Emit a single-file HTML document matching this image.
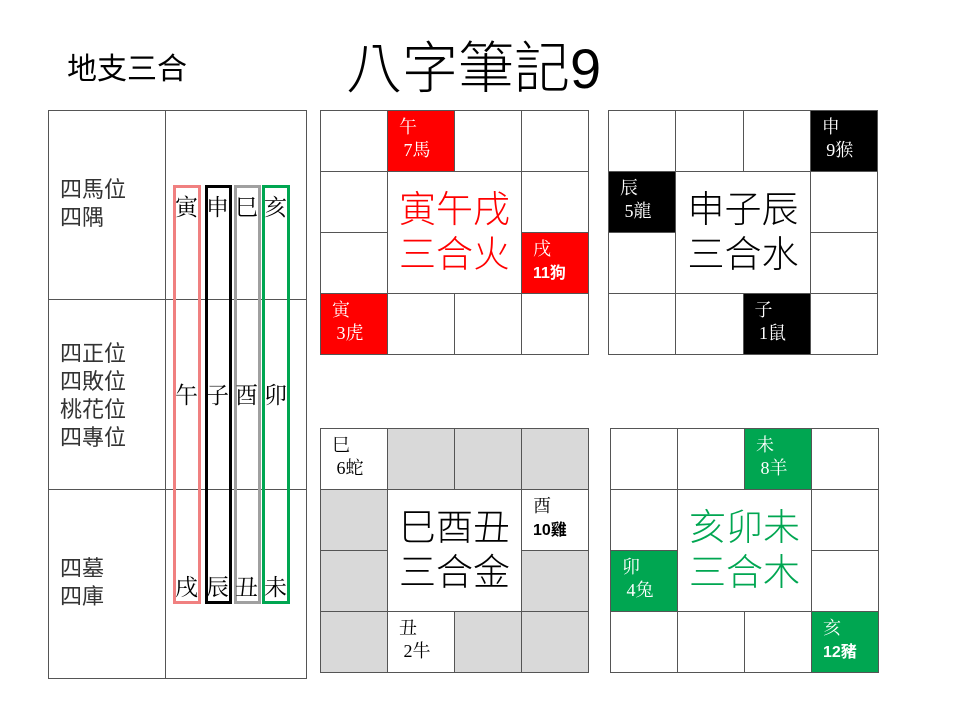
<!DOCTYPE html>
<html><head><meta charset="utf-8"><style>
body{margin:0;width:960px;height:720px;background:#fff;position:relative;overflow:hidden;font-family:"Liberation Sans","Noto Sans CJK TC",sans-serif;}
.a{position:absolute}
.g{position:absolute;border-left:1px solid #555;border-top:1px solid #555;display:grid;grid-template-columns:repeat(4,1fr);grid-template-rows:repeat(4,1fr);box-sizing:border-box}
.g>div{border-right:1px solid #555;border-bottom:1px solid #555;position:relative;font-family:"Liberation Serif","Noto Serif CJK TC",serif;font-size:18px;line-height:23px;padding:5px 0 0 11px;box-sizing:border-box}
.g>div.c{grid-column:2/4;grid-row:2/4;background:#fff;font-family:"Liberation Sans","Noto Sans CJK TC",sans-serif;font-size:37px;line-height:45px;text-align:center;padding:15px 0 0 0;font-weight:300}
.r{background:#f00;color:#fff}.k{background:#000;color:#fff}.gr{background:#d9d9d9}.gn{background:#00a651;color:#fff}.w{background:#fff}
.b{font-family:"Liberation Sans","Noto Sans CJK TC",sans-serif;font-weight:bold;font-size:16px}
.lab{position:absolute;font-size:22px;line-height:28px;color:#333}
.ch{position:absolute;font-size:23px;font-family:"Liberation Serif","Noto Serif CJK TC",serif;line-height:26px}
</style></head><body>
<div class="a" style="left:67px;top:50px;font-size:30px;line-height:40px">地支三合</div>
<div class="a" style="left:346px;top:34px;font-size:56px;line-height:70px;font-weight:300">八字筆記9</div>

<div class="a" style="left:48px;top:110px;width:259px;height:569px;border:1px solid #555;box-sizing:border-box"></div>
<div class="a" style="left:165px;top:110px;width:1px;height:569px;background:#555"></div>
<div class="a" style="left:48px;top:299px;width:259px;height:1px;background:#555"></div>
<div class="a" style="left:48px;top:489px;width:259px;height:1px;background:#555"></div>
<div class="lab" style="left:60px;top:176px">四馬位<br>四隅</div>
<div class="lab" style="left:60px;top:340px">四正位<br>四敗位<br>桃花位<br>四專位</div>
<div class="lab" style="left:60px;top:555px">四墓<br>四庫</div>
<div class="a" style="left:173px;top:185px;width:28px;height:419px;border:3px solid #f08080;box-sizing:border-box"></div>
<div class="a" style="left:205px;top:185px;width:27px;height:419px;border:3px solid #000;box-sizing:border-box"></div>
<div class="a" style="left:234px;top:185px;width:27px;height:419px;border:3px solid #a0a0a0;box-sizing:border-box"></div>
<div class="a" style="left:262px;top:185px;width:28px;height:419px;border:3px solid #00a651;box-sizing:border-box"></div>
<div class="ch" style="left:175px;top:195px">寅</div><div class="ch" style="left:206px;top:195px">申</div><div class="ch" style="left:235px;top:195px">巳</div><div class="ch" style="left:264px;top:195px">亥</div>
<div class="ch" style="left:175px;top:383px">午</div><div class="ch" style="left:206px;top:383px">子</div><div class="ch" style="left:235px;top:383px">酉</div><div class="ch" style="left:264px;top:383px">卯</div>
<div class="ch" style="left:175px;top:575px">戌</div><div class="ch" style="left:206px;top:575px">辰</div><div class="ch" style="left:235px;top:575px">丑</div><div class="ch" style="left:264px;top:575px">未</div>

<div class="g" style="left:320px;top:110px;width:269px;height:245px">
<div></div><div class="r">午<br>&nbsp;7馬</div><div></div><div></div>
<div></div><div class="c" style="color:#f00">寅午戌<br>三合火</div><div></div>
<div></div><div class="r">戌<br><span class="b">11狗</span></div>
<div class="r">寅<br>&nbsp;3虎</div><div></div><div></div><div></div>
</div>

<div class="g" style="left:608px;top:110px;width:270px;height:245px">
<div></div><div></div><div></div><div class="k">申<br>&nbsp;9猴</div>
<div class="k">辰<br>&nbsp;5龍</div><div class="c" style="color:#000">申子辰<br>三合水</div><div></div>
<div></div><div></div>
<div></div><div></div><div class="k">子<br>&nbsp;1鼠</div><div></div>
</div>

<div class="g" style="left:320px;top:428px;width:269px;height:245px">
<div class="w">巳<br>&nbsp;6蛇</div><div class="gr"></div><div class="gr"></div><div class="gr"></div>
<div class="gr"></div><div class="c" style="color:#000">巳酉丑<br>三合金</div><div class="w">酉<br><span class="b">10雞</span></div>
<div class="gr"></div><div class="gr"></div>
<div class="gr"></div><div class="w">丑<br>&nbsp;2牛</div><div class="gr"></div><div class="gr"></div>
</div>

<div class="g" style="left:610px;top:428px;width:269px;height:245px">
<div></div><div></div><div class="gn">未<br>&nbsp;8羊</div><div></div>
<div></div><div class="c" style="color:#00a651">亥卯未<br>三合木</div><div></div>
<div class="gn">卯<br>&nbsp;4兔</div><div></div>
<div></div><div></div><div></div><div class="gn">亥<br><span class="b">12豬</span></div>
</div>
</body></html>
